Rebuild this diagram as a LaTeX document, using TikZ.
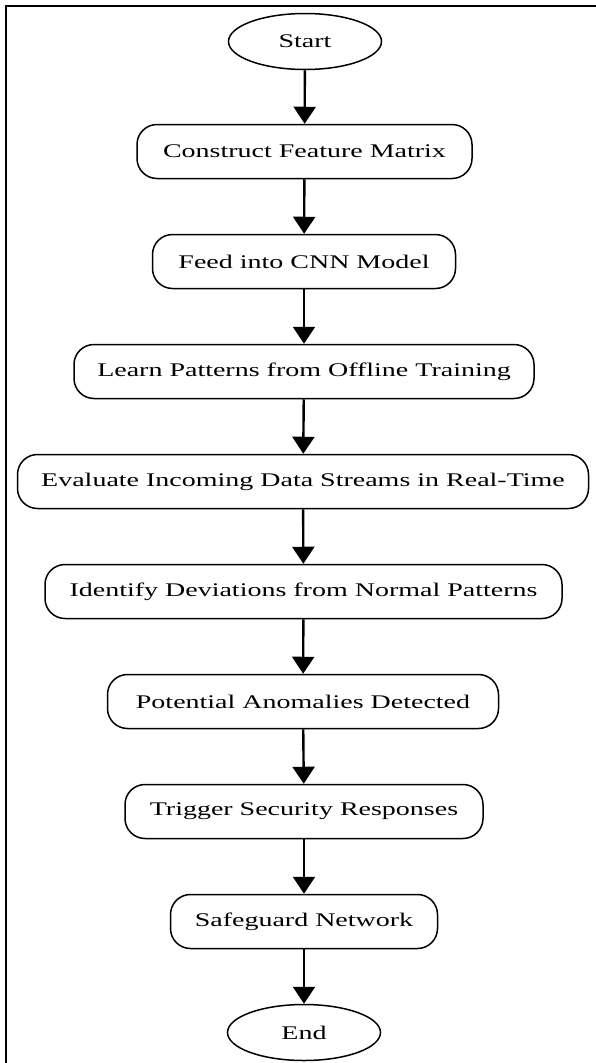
\documentclass[tikz,border=0pt]{standalone}
\usepackage{fontspec}
\setmainfont{Liberation Serif}[FakeStretch=1.45]
\usetikzlibrary{arrows.meta,shapes.geometric}
\begin{document}
\begin{tikzpicture}[x=1pt,y=-1pt,
  every node/.style={font=\fontsize{19.3}{21}\selectfont, text=black},
  term/.style={ellipse, draw, line width=1.5pt, minimum width=153pt, minimum height=56pt, inner sep=0pt},
  proc/.style={rectangle, rounded corners=20pt, draw, line width=1.5pt, minimum height=54pt, inner sep=0pt},
  flow/.style={line width=2.4pt, -{Triangle[length=17pt,width=22pt]}}]
\useasboundingbox (0,0) rectangle (596,1063);
\draw[line width=2.4pt] (6,1070) -- (6,6) -- (605,6);
\node[term] (start) at (305,41.5) {Start};
\node[proc, minimum width=335pt] (n1) at (304.5,151.5) {Construct Feature Matrix};
\node[proc, minimum width=303pt] (n2) at (304,261.5) {Feed into CNN Model};
\node[proc, minimum width=460pt] (n3) at (304,371.5) {Learn Patterns from Offline Training};
\node[proc, minimum width=571pt] (n4) at (303,481.5) {Evaluate Incoming Data Streams in Real-Time};
\node[proc, minimum width=517pt] (n5) at (303.5,591.5) {Identify Deviations from Normal Patterns};
\node[proc, minimum width=391pt] (n6) at (303,701.5) {Potential Anomalies Detected};
\node[proc, minimum width=358pt] (n7) at (304,811.5) {Trigger Security Responses};
\node[proc, minimum width=267pt] (n8) at (304,921.5) {Safeguard Network};
\node[term] (end) at (304,1032.5) {End};
\foreach \a/\b in {start/n1,n1/n2,n2/n3,n3/n4,n4/n5,n5/n6,n6/n7,n7/n8,n8/end}
  \draw[flow] (\a) -- (\b);
\end{tikzpicture}
\end{document}
